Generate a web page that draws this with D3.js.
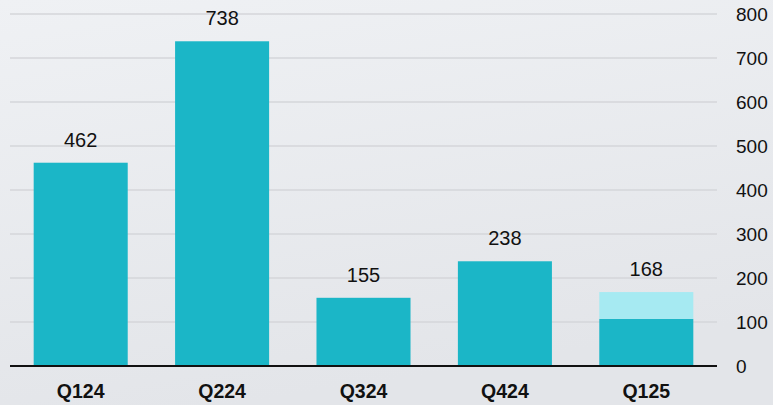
<!DOCTYPE html>
<html>
<head>
<meta charset="utf-8">
<script src="https://cdn.jsdelivr.net/npm/d3@7"></script>
<style>
  html, body { margin: 0; padding: 0; }
  body { width: 773px; height: 405px; overflow: hidden; }
  svg { display: block; font-family: "Liberation Sans", Arial, sans-serif; }
</style>
</head>
<body>
<svg id="chart" width="773" height="405"></svg>
<script>
// Quarterly totals; the last quarter is split into a base part and an extra part
const quarters = ["Q124", "Q224", "Q324", "Q424", "Q125"];
const baseValues = [462, 738, 155, 238, 107];
const extraValues = [0, 0, 0, 0, 61];
const totals = [462, 738, 155, 238, 168];
const yTicks = [0, 100, 200, 300, 400, 500, 600, 700, 800];

const W = 773, H = 405;
const plotLeft = 10, plotRight = 717, plotTop = 14, plotBottom = 366;

const svg = d3.select("#chart");

// soft grey background
const defs = svg.append("defs");
const bg = defs.append("linearGradient").attr("id", "bg")
  .attr("x1", 0).attr("y1", 0).attr("x2", 0.3).attr("y2", 1);
bg.append("stop").attr("offset", "0%").attr("stop-color", "#eff1f4");
bg.append("stop").attr("offset", "100%").attr("stop-color", "#e3e5e9");
svg.append("rect").attr("width", W).attr("height", H).attr("fill", "url(#bg)");

const x = d3.scaleBand().domain(quarters).range([plotLeft, plotRight])
  .paddingInner(0.335).paddingOuter(0.1675);
const y = d3.scaleLinear().domain([0, 800]).range([plotBottom, plotTop]);

// horizontal gridlines
svg.append("g").selectAll("line").data(yTicks.filter(d => d > 0)).join("line")
  .attr("x1", plotLeft).attr("x2", plotRight)
  .attr("y1", d => y(d)).attr("y2", d => y(d))
  .attr("stroke", "#d4d6da").attr("stroke-width", 1.5);

// right-hand value axis
const yAxis = svg.append("g").attr("transform", `translate(${plotRight + 8},0)`)
  .call(d3.axisRight(y).tickValues(yTicks).tickSize(0).tickPadding(11));
yAxis.select(".domain").remove();
yAxis.selectAll("text").attr("font-size", 19).attr("fill", "#111")
  .attr("font-family", "Liberation Sans, Arial, sans-serif");

// base bars
svg.append("g").selectAll("rect").data(quarters).join("rect")
  .attr("x", d => x(d)).attr("width", x.bandwidth())
  .attr("y", (d, i) => y(baseValues[i]))
  .attr("height", (d, i) => y(0) - y(baseValues[i]))
  .attr("fill", "#1bb6c7");

// stacked extra part
svg.append("g").selectAll("rect").data(quarters.filter((d, i) => extraValues[i] > 0)).join("rect")
  .attr("x", d => x(d)).attr("width", x.bandwidth())
  .attr("y", d => { const i = quarters.indexOf(d); return y(baseValues[i] + extraValues[i]); })
  .attr("height", d => { const i = quarters.indexOf(d); return y(baseValues[i]) - y(baseValues[i] + extraValues[i]); })
  .attr("fill", "#a6eaf2");

// total labels above bars
svg.append("g").selectAll("text").data(quarters).join("text")
  .attr("x", d => x(d) + x.bandwidth() / 2)
  .attr("y", (d, i) => y(totals[i]) - 16)
  .attr("text-anchor", "middle").attr("font-size", 20).attr("fill", "#111")
  .text((d, i) => totals[i]);

// baseline
svg.append("line").attr("x1", plotLeft).attr("x2", plotRight)
  .attr("y1", y(0)).attr("y2", y(0))
  .attr("stroke", "#111").attr("stroke-width", 2);

// category axis labels
const xAxis = svg.append("g").attr("transform", `translate(0,${plotBottom})`)
  .call(d3.axisBottom(x).tickSize(0).tickPadding(18));
xAxis.select(".domain").remove();
xAxis.selectAll("text").attr("font-size", 19.5).attr("font-weight", "bold").attr("fill", "#111")
  .attr("font-family", "Liberation Sans, Arial, sans-serif");
</script>
</body>
</html>
